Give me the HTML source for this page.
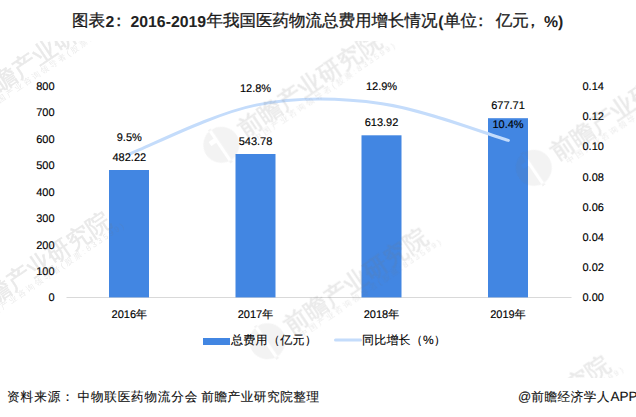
<!DOCTYPE html>
<html><head><meta charset="utf-8">
<style>
html,body{margin:0;padding:0;background:#fff;}
body{width:636px;height:417px;overflow:hidden;position:relative;font-family:"Liberation Sans",sans-serif;}
svg{position:absolute;left:0;top:0;}
svg text{font-family:"Liberation Sans",sans-serif;text-rendering:geometricPrecision;}
</style></head>
<body>
<svg width="636" height="417" viewBox="0 0 636 417">
  <defs>
    <clipPath id="wc"><rect x="0" y="41.5" width="636" height="336"/></clipPath>
      </defs>
  <!-- title -->
  <g fill="#1a1a1a">
    <text y="26" font-size="16.5" stroke="#1a1a1a" stroke-width="0.3"><tspan x="72" y="26">图表</tspan><tspan x="105.5" y="26.8" font-size="15.8" font-weight="bold" fill="#222" stroke="none">2</tspan><tspan x="110.5" y="26">：</tspan><tspan x="130.5" y="26.8" font-size="15.8" font-weight="bold" fill="#222" stroke="none">2016-2019</tspan><tspan x="206.5" y="26">年我国医药物流总费用增长情况</tspan><tspan x="438.3" y="26.8" font-size="15.8" font-weight="bold" fill="#222" stroke="none">(</tspan><tspan x="444" y="26">单位</tspan><tspan x="472.5" y="26">：</tspan><tspan x="495.7" y="26">亿元</tspan><tspan x="524.5" y="26">，</tspan><tspan x="544" y="26.8" font-size="15.8" font-weight="bold" fill="#222" stroke="none">%)</tspan></text>
  </g>

  <!-- left axis labels -->
  <g font-size="11" fill="#000" stroke="#000" stroke-width="0.15" text-anchor="end">
    <text x="54.5" y="90">800</text>
    <text x="54.5" y="116.4">700</text>
    <text x="54.5" y="142.9">600</text>
    <text x="54.5" y="169.3">500</text>
    <text x="54.5" y="195.7">400</text>
    <text x="54.5" y="222.1">300</text>
    <text x="54.5" y="248.6">200</text>
    <text x="54.5" y="275">100</text>
    <text x="54.5" y="301.4">0</text>
  </g>
  <!-- right axis labels -->
  <g font-size="11" fill="#000" stroke="#000" stroke-width="0.15" text-anchor="start">
    <text x="582.5" y="90">0.14</text>
    <text x="582.5" y="120.2">0.12</text>
    <text x="582.5" y="150.4">0.10</text>
    <text x="582.5" y="180.6">0.08</text>
    <text x="582.5" y="210.8">0.06</text>
    <text x="582.5" y="241">0.04</text>
    <text x="582.5" y="271.2">0.02</text>
    <text x="582.5" y="301.4">0.00</text>
  </g>

  <!-- baseline -->
  <rect x="66.5" y="297" width="505" height="1" fill="#d9d9d9"/>

  <!-- bars -->
  <g fill="#4286e2">
    <rect x="109" y="170" width="40" height="127.4"/>
    <rect x="235.5" y="154" width="40" height="143.4"/>
    <rect x="361.5" y="135.3" width="40" height="162.1"/>
    <rect x="488" y="118.2" width="40" height="179.2"/>
  </g>

  <!-- line -->
  <path d="M129.6,154.0 C150.7,145.8 213.8,113.5 255.9,105.1 C298.0,96.7 340.0,97.8 382.1,103.7 C424.2,109.6 487.3,134.3 508.4,140.4" fill="none" stroke="#c4dcfb" stroke-width="3" stroke-linecap="round"/>

  <!-- data labels -->
  <g font-size="11" fill="#000" stroke="#000" stroke-width="0.15" text-anchor="middle">
    <text x="129.3" y="161">482.22</text>
    <text x="129.3" y="141.3">9.5%</text>
    <text x="255.5" y="144.8">543.78</text>
    <text x="255.5" y="92">12.8%</text>
    <text x="381.5" y="126">613.92</text>
    <text x="381.5" y="90">12.9%</text>
    <text x="508" y="109">677.71</text>
    <text x="508" y="127.8">10.4%</text>
  </g>

  <!-- x labels -->
  <g font-size="11" fill="#000" stroke="#000" stroke-width="0.15" text-anchor="middle">
    <text x="129.3" y="318">2016年</text>
    <text x="255.5" y="318">2017年</text>
    <text x="381.5" y="318">2018年</text>
    <text x="508" y="318">2019年</text>
  </g>

  <!-- legend -->
  <rect x="203" y="338" width="27" height="7" fill="#4286e2"/>
  <text x="231" y="344.3" font-size="12" fill="#000" stroke="#000" stroke-width="0.12" letter-spacing="0.3">总费用（亿元）</text>
  <line x1="335.5" y1="340" x2="360.5" y2="340" stroke="#c4dcfb" stroke-width="3" stroke-linecap="round"/>
  <text x="362" y="344.3" font-size="12" fill="#000" stroke="#000" stroke-width="0.12" letter-spacing="0.2">同比增长（%）</text>

  <!-- footer -->
  <g font-size="12.6" fill="#111" stroke="#111" stroke-width="0.12">
    <text x="7" y="400.6" letter-spacing="0.97">资料来源：</text>
    <text x="77.5" y="400.6" letter-spacing="0.8">中物联医药物流分会</text>
    <text x="201.3" y="400.6" letter-spacing="0.55">前瞻产业研究院整理</text>
    <text x="518" y="401" font-size="13">@</text>
    <text x="531.3" y="401" letter-spacing="0.55">前瞻经济学人</text>
    <text x="610.5" y="401" font-size="13.5" letter-spacing="0">APP</text>
  </g>
  <g clip-path="url(#wc)"><g opacity="0.16" fill="#777" stroke="#777">
    <g transform="translate(-15.4,92.1) rotate(-34)">
      <path stroke="none" fill-opacity="0.55" fill-rule="evenodd" d="M-35,-16.5 a18,18 0 1,0 0.01,0 Z M-38,-18 h3.2 v40 h-3.2 Z M-44,-8 h6 v5 h-6 Z"/>
      <text x="-11.85" y="8.5" font-size="23.7" stroke-width="0.6" letter-spacing="0.3">前瞻产业研究院</text>
      <text x="-4" y="17.5" font-size="8" stroke="none" letter-spacing="2.4">中国产业咨询领导者(股票:833599)</text>
    </g>
    <g transform="translate(249.5,124) rotate(-34)">
      <path stroke="none" fill-opacity="0.55" fill-rule="evenodd" d="M-35,-16.5 a18,18 0 1,0 0.01,0 Z M-38,-18 h3.2 v40 h-3.2 Z M-44,-8 h6 v5 h-6 Z"/>
      <text x="-11.85" y="8.5" font-size="23.7" stroke-width="0.6" letter-spacing="0.3">前瞻产业研究院</text>
      <text x="-4" y="17.5" font-size="8" stroke="none" letter-spacing="2.4">中国产业咨询领导者(股票:833599)</text>
    </g>
    <g transform="translate(562,147) rotate(-34)">
      <path stroke="none" fill-opacity="0.55" fill-rule="evenodd" d="M-35,-16.5 a18,18 0 1,0 0.01,0 Z M-38,-18 h3.2 v40 h-3.2 Z M-44,-8 h6 v5 h-6 Z"/>
      <text x="-11.85" y="8.5" font-size="23.7" stroke-width="0.6" letter-spacing="0.3">前瞻产业研究院</text>
      <text x="-4" y="17.5" font-size="8" stroke="none" letter-spacing="2.4">中国产业咨询领导者(股票:833599)</text>
    </g>
    <g transform="translate(-21.2,304.5) rotate(-34)">
      <path stroke="none" fill-opacity="0.55" fill-rule="evenodd" d="M-35,-16.5 a18,18 0 1,0 0.01,0 Z M-38,-18 h3.2 v40 h-3.2 Z M-44,-8 h6 v5 h-6 Z"/>
      <text x="-11.85" y="8.5" font-size="23.7" stroke-width="0.6" letter-spacing="0.3">前瞻产业研究院</text>
      <text x="-4" y="17.5" font-size="8" stroke="none" letter-spacing="2.4">中国产业咨询领导者(股票:833599)</text>
    </g>
    <g transform="translate(295.6,320.4) rotate(-34)">
      <path stroke="none" fill-opacity="0.55" fill-rule="evenodd" d="M-35,-16.5 a18,18 0 1,0 0.01,0 Z M-38,-18 h3.2 v40 h-3.2 Z M-44,-8 h6 v5 h-6 Z"/>
      <text x="-11.85" y="8.5" font-size="23.7" stroke-width="0.6" letter-spacing="0.3">前瞻产业研究院</text>
      <text x="-4" y="17.5" font-size="8" stroke="none" letter-spacing="2.4">中国产业咨询领导者(股票:833599)</text>
    </g>
    <g transform="translate(478,448) rotate(-34)">
      <path stroke="none" fill-opacity="0.55" fill-rule="evenodd" d="M-35,-16.5 a18,18 0 1,0 0.01,0 Z M-38,-18 h3.2 v40 h-3.2 Z M-44,-8 h6 v5 h-6 Z"/>
      <text x="-11.85" y="8.5" font-size="23.7" stroke-width="0.6" letter-spacing="0.3">前瞻产业研究院</text>
      <text x="-4" y="17.5" font-size="8" stroke="none" letter-spacing="2.4">中国产业咨询领导者(股票:833599)</text>
    </g>
  </g></g>
</svg>
</body></html>
